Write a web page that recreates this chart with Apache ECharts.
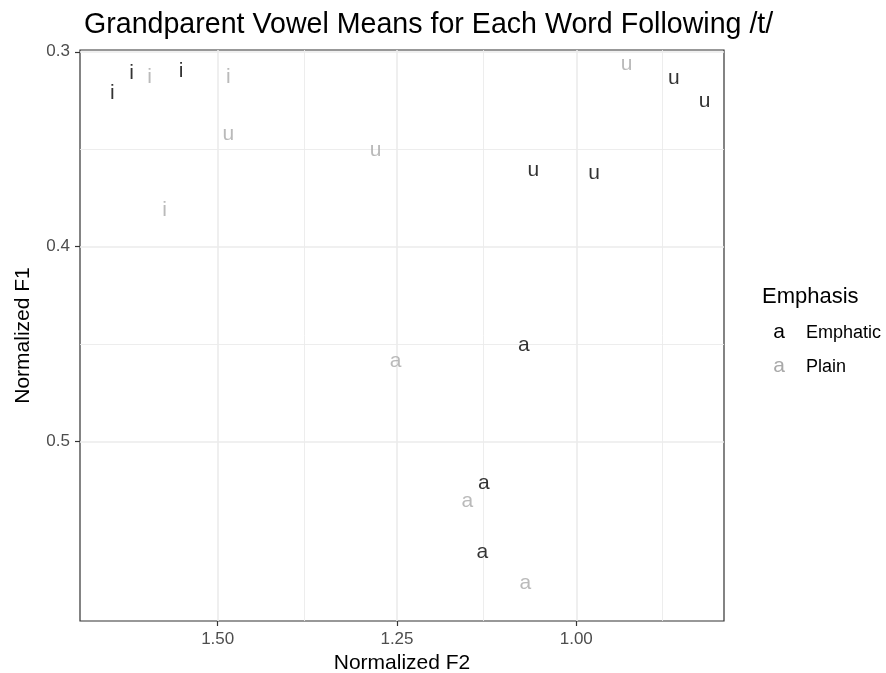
<!DOCTYPE html>
<html>
<head>
<meta charset="utf-8">
<script src="https://cdn.jsdelivr.net/npm/echarts@6/dist/echarts.min.js"></script>
<style>
html,body{margin:0;padding:0;background:#fff;}
#chart{width:886px;height:673px;}
</style>
</head>
<body>
<div id="chart"></div>
<script>
// ---- data ----
var emphaticVowels = ['i','i','i','u','u','u','u','a','a','a'];
var emphaticF2 = [1.647, 1.620, 1.551, 1.060, 0.975, 0.864, 0.821, 1.073, 1.129, 1.131];
var emphaticF1 = [0.320, 0.310, 0.309, 0.360, 0.362, 0.313, 0.325, 0.450, 0.521, 0.556];

var plainVowels = ['i','i','i','u','u','u','a','a','a'];
var plainF2 = [1.595, 1.485, 1.574, 1.485, 1.280, 0.930, 1.252, 1.152, 1.071];
var plainF1 = [0.312, 0.312, 0.380, 0.342, 0.350, 0.306, 0.458, 0.530, 0.572];

var xMajorTicks = [1.50, 1.25, 1.00];
var xMinorTicks = [1.375, 1.125, 0.875];
var yMajorTicks = [0.3, 0.4, 0.5];
var yMinorTicks = [0.35, 0.45];

var legendTitle = 'Emphasis';
var legendNames = ['Emphatic', 'Plain'];

// ---- styling ----
var FONT = '"Liberation Sans", Arial, sans-serif';
var COLORS = ['#000000', '#a9a9a9'];
var LETTER_SIZE = 21;

function buildData(vowels, f2, f1) {
  return vowels.map(function (v, i) {
    var item = { value: [f2[i], f1[i], v] };
    item.label = { offset: [0, v === 'i' ? 2 : 1] };
    return item;
  });
}

function gridLines(xs, ys, width) {
  var d = [];
  xs.forEach(function (x) { d.push({ xAxis: x, lineStyle: { width: width } }); });
  ys.forEach(function (y) { d.push({ yAxis: y, lineStyle: { width: width } }); });
  return d;
}

var chart = echarts.init(document.getElementById('chart'), null, { renderer: 'canvas' });

function letterSeries(name, data, color, withGrid) {
  var s = {
    name: name,
    type: 'scatter',
    data: data,
    symbolSize: 1,
    itemStyle: { color: 'rgba(0,0,0,0)' },
    z: 5,
    label: {
      show: true,
      position: 'inside',
      formatter: function (p) { return p.value[2]; },
      color: color,
      fontFamily: FONT,
      fontSize: LETTER_SIZE,
      align: 'center',
      verticalAlign: 'middle'
    },
    emphasis: { disabled: true }
  };
  if (withGrid) {
    s.markLine = {
      silent: true,
      symbol: ['none', 'none'],
      label: { show: false },
      z: 1,
      lineStyle: { color: '#ebebeb', type: 'solid' },
      data: gridLines(xMajorTicks, yMajorTicks, 1.6).concat(gridLines(xMinorTicks, yMinorTicks, 0.9))
    };
  }
  return s;
}

var option = {
  backgroundColor: '#ffffff',
  animation: false,
  title: {
    text: 'Grandparent Vowel Means for Each Word Following /t/',
    left: 79,
    top: 6,
    textStyle: { fontFamily: FONT, fontSize: 28.6, fontWeight: 'normal', color: '#000' }
  },
  grid: {
    left: 80, right: 162, top: 50, bottom: 52,
    outerBoundsMode: 'none',
    containLabel: false,
    show: true, borderColor: '#333333', borderWidth: 1.2, backgroundColor: '#ffffff'
  },
  xAxis: {
    type: 'value',
    inverse: true,
    min: 0.794,
    max: 1.692,
    name: 'Normalized F2',
    nameLocation: 'middle',
    nameGap: 31,
    nameTextStyle: { fontFamily: FONT, fontSize: 21, color: '#000' },
    axisLine: { show: false },
    splitLine: { show: false },
    axisTick: { show: true, customValues: xMajorTicks, length: 5, lineStyle: { color: '#333333', width: 1.2 } },
    axisLabel: {
      customValues: xMajorTicks,
      margin: 10,
      fontFamily: FONT, fontSize: 17, color: '#4d4d4d',
      formatter: function (v) { return v.toFixed(2); }
    }
  },
  yAxis: {
    type: 'value',
    inverse: true,
    min: 0.2991,
    max: 0.592,
    name: 'Normalized F1',
    nameLocation: 'middle',
    nameGap: 46,
    nameRotate: 90,
    nameTextStyle: { fontFamily: FONT, fontSize: 21, color: '#000' },
    axisLine: { show: false },
    splitLine: { show: false },
    axisTick: { show: true, customValues: yMajorTicks, length: 5, lineStyle: { color: '#333333', width: 1.2 } },
    axisLabel: {
      customValues: yMajorTicks,
      margin: 10,
      fontFamily: FONT, fontSize: 17, color: '#4d4d4d',
      formatter: function (v) { return v.toFixed(1); }
    }
  },
  series: [
    letterSeries(legendNames[0], buildData(emphaticVowels, emphaticF2, emphaticF1), COLORS[0], true),
    letterSeries(legendNames[1], buildData(plainVowels, plainF2, plainF1), COLORS[1], false)
  ],
  graphic: [
    { type: 'text', left: 762, top: 286, style: { text: legendTitle, fontFamily: FONT, fontSize: 22, fill: '#000' } },
    { type: 'text', x: 779, y: 332, style: { text: 'a', fontFamily: FONT, fontSize: LETTER_SIZE, fill: COLORS[0], align: 'center', verticalAlign: 'middle' } },
    { type: 'text', x: 806, y: 333, style: { text: legendNames[0], fontFamily: FONT, fontSize: 18, fill: '#000', align: 'left', verticalAlign: 'middle' } },
    { type: 'text', x: 779, y: 366, style: { text: 'a', fontFamily: FONT, fontSize: LETTER_SIZE, fill: COLORS[1], align: 'center', verticalAlign: 'middle' } },
    { type: 'text', x: 806, y: 367, style: { text: legendNames[1], fontFamily: FONT, fontSize: 18, fill: '#000', align: 'left', verticalAlign: 'middle' } }
  ]
};

chart.setOption(option);
</script>
</body>
</html>
